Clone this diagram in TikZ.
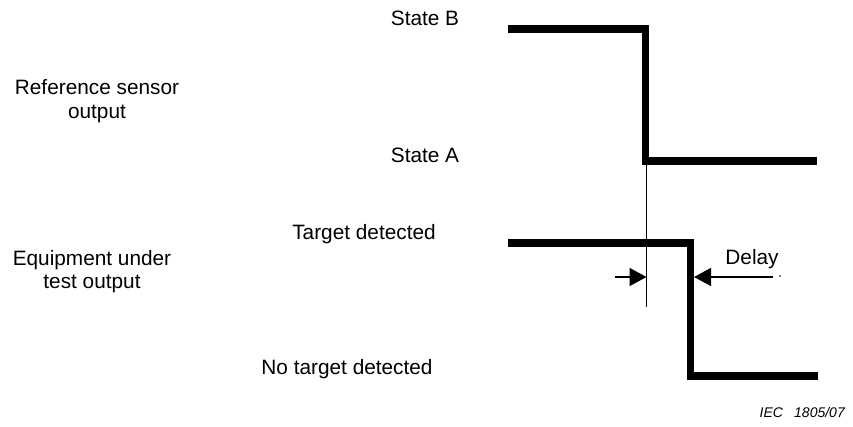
\documentclass[tikz,border=0pt]{standalone}
\usepackage{fontspec}
\setmainfont{Liberation Sans}
\usetikzlibrary{arrows.meta}
\tikzset{
  signal/.style={line width=7.5pt, line join=miter, line cap=butt},
  thin/.style={line width=1.5pt},
  lbl/.style={inner sep=0pt, anchor=base, font=\fontsize{20.8}{24}\selectfont, align=center},
  dim/.style={thin, -{Triangle[length=17pt,width=18pt]}}
}
\begin{document}
\begin{tikzpicture}[x=1pt,y=-1pt]
\useasboundingbox (0,0) rectangle (853,427);
% reference sensor signal
\coordinate (b0) at (508,29);
\coordinate (b1) at (645.5,29);
\coordinate (b2) at (645.5,161);
\coordinate (b3) at (817,161);
\draw[signal] (b0) -- (b1) -- (b2) -- (b3);
% equipment signal
\coordinate (e0) at (508,243);
\coordinate (e1) at (690.5,243);
\coordinate (e2) at (690.5,376);
\coordinate (e3) at (818,376);
\draw[signal] (e0) -- (e1) -- (e2) -- (e3);
% thin marker line
\coordinate (m0) at (646.5,161);
\coordinate (m1) at (646.5,307);
\draw[thin] (m0) -- (m1);
% delay arrows
\coordinate (la) at (615,277);
\coordinate (lt) at (646.5,277);
\coordinate (ra) at (773,277);
\coordinate (rt) at (694,277);
\draw[dim] (la) -- (lt);
\draw[dim] (ra) -- (rt);
\fill (780,276) circle (0.8pt);
% labels
\node[lbl] (sb) at (425,26) {State B};
\node[lbl] (ref) at (97,119) {Reference sensor\\output};
\node[lbl] (sa) at (425,163) {State A};
\node[lbl] (td) at (364,240) {Target detected};
\node[lbl] (eut) at (92,289) {Equipment under\\test output};
\node[lbl] (dl) at (752,265) {Delay};
\node[lbl] (ntd) at (347,374) {No target detected};
\node[inner sep=0pt, anchor=base east, font=\fontsize{14}{16}\selectfont\itshape] (iec) at (845,417) {IEC\hspace{0.8em}1805/07};
\end{tikzpicture}
\end{document}
